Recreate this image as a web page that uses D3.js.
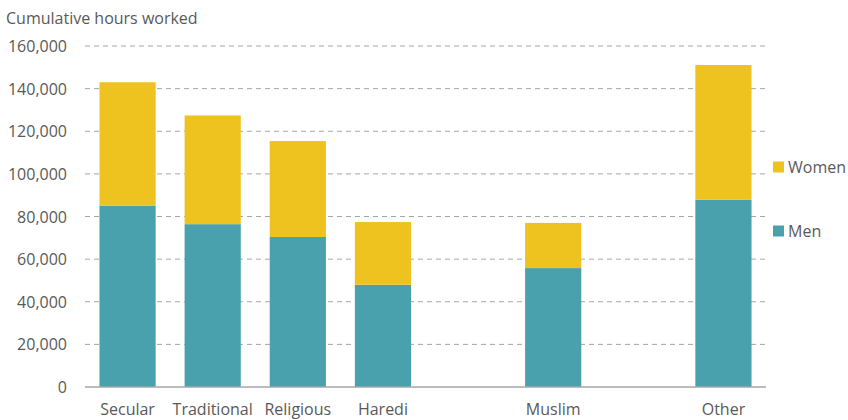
<!DOCTYPE html>
<html>
<head>
<meta charset="utf-8">
<script src="https://cdn.jsdelivr.net/npm/d3@7"></script>
<style>
  body { margin: 0; background: #fff; }
  text { font-family: "Open Sans", sans-serif; fill: #595959; }
</style>
</head>
<body>
<div id="chart"></div>
<script>

const categories = ["Secular", "Traditional", "Religious", "Haredi", "", "Muslim", "", "Other"];
const men   = [85000, 76400, 70400, 48000, null, 55800, null, 87900];
const women = [58000, 51000, 45000, 29400, null, 21200, null, 63200];
const yTicks = [0, 20000, 40000, 60000, 80000, 100000, 120000, 140000, 160000];

const width = 848, height = 420;
const margin = { left: 85, right: 82, top: 46, bottom: 33 };

const svg = d3.select("#chart").append("svg")
	.attr("width", width)
	.attr("height", height);

// slots 0..7, blanks keep their place
const x = d3.scaleBand()
	.domain(d3.range(categories.length))
	.range([margin.left, width - margin.right])
	.paddingInner(0.34)
	.paddingOuter(0.17);

const y = d3.scaleLinear()
	.domain([0, 160000])
	.range([height - margin.bottom, margin.top]);

// gridlines
svg.append("g")
	.selectAll("line")
	.data(yTicks.slice(1))
	.join("line")
		.attr("x1", margin.left)
		.attr("x2", width - margin.right)
		.attr("y1", d => y(d))
		.attr("y2", d => y(d))
		.attr("stroke", "#a6a6a6")
		.attr("stroke-width", 1)
		.attr("stroke-dasharray", "5,4");

// y tick labels
const fmt = d3.format(",");
svg.append("g")
	.selectAll("text")
	.data(yTicks)
	.join("text")
		.attr("x", 67)
		.attr("y", d => y(d) + 6)
		.attr("text-anchor", "end")
		.style("font-size", "16px")
		.text(d => fmt(d));

// stacked bars
const rows = categories.map((c, i) => ({ i: i, men: men[i], women: women[i] }))
	.filter(d => d.men !== null);

const stack = d3.stack().keys(["men", "women"]);
const colors = { men: "#4aa1ae", women: "#eec21f" };

svg.append("g")
	.selectAll("g")
	.data(stack(rows))
	.join("g")
		.attr("fill", d => colors[d.key])
	.selectAll("rect")
	.data(d => d)
	.join("rect")
		.attr("x", d => x(d.data.i))
		.attr("width", x.bandwidth())
		.attr("y", d => y(d[1]))
		.attr("height", d => y(d[0]) - y(d[1]));

// baseline
svg.append("line")
	.attr("x1", margin.left)
	.attr("x2", width - margin.right)
	.attr("y1", y(0))
	.attr("y2", y(0))
	.attr("stroke", "#a6a6a6")
	.attr("stroke-width", 1.3);

// category labels
svg.append("g")
	.selectAll("text")
	.data(categories.map((c, i) => ({ c: c, i: i })).filter(d => d.c !== ""))
	.join("text")
		.attr("x", d => x(d.i) + x.bandwidth() / 2)
		.attr("y", 415)
		.attr("text-anchor", "middle")
		.style("font-size", "16px")
		.text(d => d.c);

// title
svg.append("text")
	.attr("x", 6)
	.attr("y", 24)
	.style("font-size", "16px")
	.text("Cumulative hours worked");

// legend
const legend = [
	{ key: "women", label: "Women", y: 167 },
	{ key: "men", label: "Men", y: 231 }
];
const lg = svg.append("g")
	.selectAll("g")
	.data(legend)
	.join("g")
		.attr("transform", d => "translate(773," + d.y + ")");
lg.append("rect")
	.attr("x", 0).attr("y", -5.5)
	.attr("width", 11).attr("height", 11)
	.attr("fill", d => colors[d.key]);
lg.append("text")
	.attr("x", 15).attr("y", 6)
	.style("font-size", "16px")
	.text(d => d.label);

</script>
</body>
</html>
